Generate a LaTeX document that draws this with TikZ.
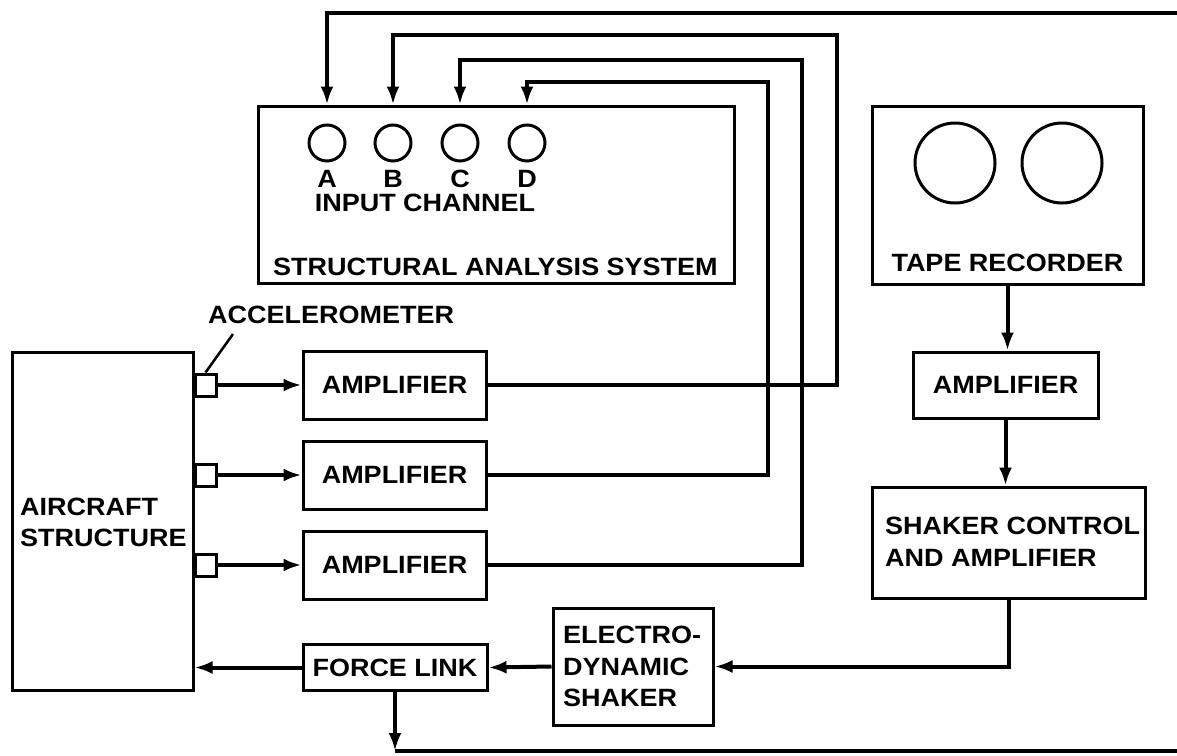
\documentclass[tikz,border=0pt]{standalone}
\usepackage{fontspec}
\setmainfont{Liberation Sans}[FakeStretch=1.08]
\usetikzlibrary{arrows.meta}
\begin{document}
\begin{tikzpicture}[x=1pt,y=-1pt,
  font=\fontsize{25}{31.5}\selectfont\bfseries,
  box/.style={draw, line width=3pt, inner sep=0pt},
  txt/.style={inner sep=0pt},
  port/.style={draw, circle, line width=3pt, minimum size=36pt, inner sep=0pt},
  reel/.style={draw, circle, line width=3pt, minimum size=80pt, inner sep=0pt},
  acc/.style={draw, line width=3pt, minimum width=21pt, minimum height=22pt, inner sep=0pt},
  conn/.style={line width=4pt},
  arr/.style={conn, -{Latex[length=18pt,width=13pt]}}]
\useasboundingbox (0,0) rectangle (1177,755);
\fill[white] (0,0) rectangle (1177,755);

% Structural analysis system
\node[box, minimum width=476pt, minimum height=177pt] (sas) at (496,194.5) {};
\node[port] (cA) at (327,143) {};
\node[port] (cB) at (393,143) {};
\node[port] (cC) at (460,143) {};
\node[port] (cD) at (527,143) {};
\node[txt] (lA) at (327,179) {A};
\node[txt] (lB) at (393,179) {B};
\node[txt] (lC) at (460,179) {C};
\node[txt] (lD) at (527,179) {D};
\node[txt] (inch) at (425,203) {INPUT CHANNEL};
\node[txt] (sastxt) at (495.5,267) {STRUCTURAL ANALYSIS SYSTEM};

% Tape recorder
\node[box, minimum width=271pt, minimum height=178pt] (tape) at (1007.5,195) {};
\node[reel] (r1) at (955,163) {};
\node[reel] (r2) at (1062,163) {};
\node[txt] (tapetxt) at (1007.5,263) {TAPE RECORDER};

\node[box, minimum width=185pt, minimum height=66pt] (tamp) at (1005.5,385) {AMPLIFIER};
\node[box, minimum width=273pt, minimum height=111pt] (ctrl) at (1008.5,542.5) {};
\node[txt, anchor=west, align=left] (ctrltxt) at (885,542) {SHAKER CONTROL\\AND AMPLIFIER};

% Aircraft structure
\node[box, minimum width=181pt, minimum height=338pt] (air) at (102.5,521) {};
\node[txt, anchor=west, align=left] (airtxt) at (20,522.5) {AIRCRAFT\\STRUCTURE};
\node[acc] (acc1) at (205.5,385) {};
\node[acc] (acc2) at (205.5,475) {};
\node[acc] (acc3) at (205.5,565) {};
\node[txt, anchor=west] (acctxt) at (208,315) {ACCELEROMETER};
\coordinate (ldr) at (233,334);
\draw[line width=2.5pt] (acc1.north) -- (ldr);

% Amplifiers
\node[box, minimum width=183pt, minimum height=68pt] (amp1) at (394.5,385) {AMPLIFIER};
\node[box, minimum width=183pt, minimum height=68pt] (amp2) at (394.5,475) {AMPLIFIER};
\node[box, minimum width=183pt, minimum height=68pt] (amp3) at (394.5,565) {AMPLIFIER};

% Force link and shaker
\node[box, minimum width=184pt, minimum height=46pt] (force) at (395,667.5) {FORCE LINK};
\node[box, minimum width=160pt, minimum height=117pt] (shaker) at (633,666.5) {};
\node[txt, anchor=west, align=left] (shtxt) at (563,666.5) {ELECTRO-\\DYNAMIC\\SHAKER};

% bend coordinates
\coordinate (bA) at (1177,13);
\coordinate (b1) at (837,35);
\coordinate (b3) at (802,60);
\coordinate (b2) at (768,82);
\coordinate (fb) at (395,751);
\coordinate (edgeB) at (1177,751);

% connectors
\draw[arr] (acc1.east) -- (amp1.west);
\draw[arr] (acc2.east) -- (amp2.west);
\draw[arr] (acc3.east) -- (amp3.west);
\draw[arr] (bA) -| (cA |- sas.north);
\draw[arr] (amp1.east) -| (b1) -| (cB |- sas.north);
\draw[arr] (amp3.east) -| (b3) -| (cC |- sas.north);
\draw[arr] (amp2.east) -| (b2) -| (cD |- sas.north);
\draw[arr] (tape.south) -- (tape.south |- tamp.north);
\draw[arr] (tamp.south) -- (tamp.south |- ctrl.north);
\draw[arr] (ctrl.south) |- (shaker.east);
\draw[arr] (shaker.west) -- (force.east);
\draw[arr] (force.west) -- (force.west -| air.east);
\draw[arr] (force.south) -- (fb);
\draw[conn] (fb) -- (edgeB);
\end{tikzpicture}
\end{document}
